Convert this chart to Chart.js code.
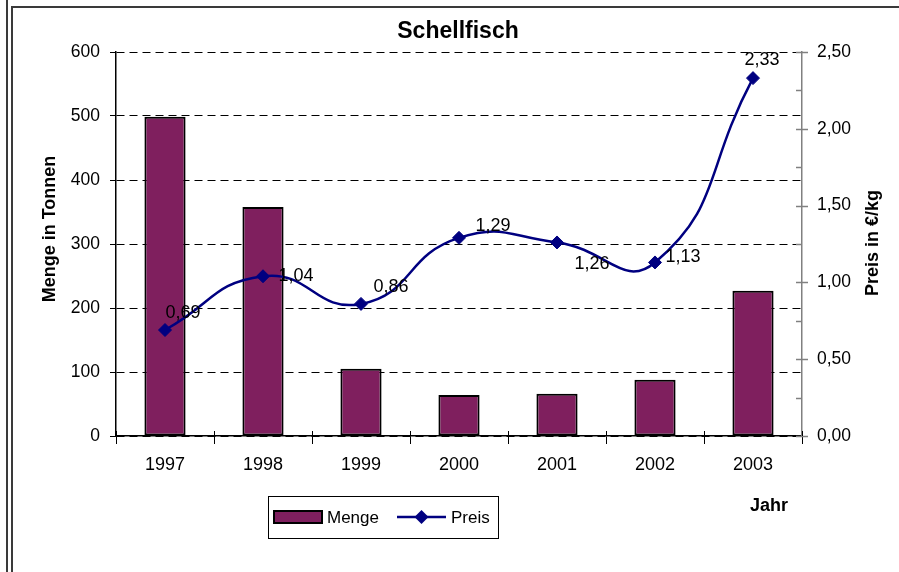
<!DOCTYPE html>
<html>
<head>
<meta charset="utf-8">
<script src="https://cdn.jsdelivr.net/npm/chart.js@4/dist/chart.umd.min.js"></script>
<style>
  html, body { margin: 0; padding: 0; background: #fff; }
  #wrap { position: relative; width: 899px; height: 572px; overflow: hidden; }
  #chart { position: absolute; left: 0; top: 0; }
  .edge { position: absolute; background: #3a3a3a; }
</style>
</head>
<body>
<div id="wrap">
  <canvas id="chart" width="899" height="572"></canvas>
  <div class="edge" style="left:6px;top:0;width:2px;height:572px"></div>
  <div class="edge" style="left:11px;top:6px;width:2px;height:566px"></div>
  <div class="edge" style="left:11px;top:6px;width:888px;height:2px"></div>
</div>
<script>
// Schellfisch: Menge (Tonnen) und Preis (EUR/kg)
const years = ['1997', '1998', '1999', '2000', '2001', '2002', '2003'];
const menge = [499, 358, 105, 64, 66, 88, 227];
const preis = [0.69, 1.04, 0.86, 1.29, 1.26, 1.13, 2.33];
const mengeTicks = [0, 100, 200, 300, 400, 500, 600];
const preisTicks = [0, 0.5, 1, 1.5, 2, 2.5];

const FONT = "'Liberation Sans', Arial, sans-serif";
const PLUM = '#7f1f5e';
const NAVY = '#000080';

// where each price label sits relative to its point (dx, dy of text centre)
const labelShift = [[18, -17], [33, 0], [30, -17], [34, -12], [35, 22], [28, -5], [9, -18]];

const fmt = v => v.toFixed(2).replace('.', ',');

const textPlugin = {
    id: 'texts',
    afterDraw(chart) {
        const ctx = chart.ctx;
        ctx.save();
        ctx.fillStyle = '#000';
        ctx.textAlign = 'center';
        ctx.textBaseline = 'middle';

        ctx.font = 'bold 23px ' + FONT;
        ctx.fillText('Schellfisch', 458, 32);

        ctx.font = 'bold 18px ' + FONT;
        ctx.fillText('Jahr', 769, 506);

        ctx.save();
        ctx.translate(50, 229);
        ctx.rotate(-Math.PI / 2);
        ctx.fillText('Menge in Tonnen', 0, 0);
        ctx.restore();

        ctx.save();
        ctx.translate(873, 243);
        ctx.rotate(-Math.PI / 2);
        ctx.fillText('Preis in €/kg', 0, 0);
        ctx.restore();

        // price labels
        const meta = chart.getDatasetMeta(1);
        ctx.font = '18px ' + FONT;
        meta.data.forEach((pt, i) => {
            const [dx, dy] = labelShift[i];
            ctx.fillText(fmt(preis[i]), pt.x + dx, pt.y + dy);
        });

        // right axis tick marks: major ones cross, minor ones inward
        const s = chart.scales.y1;
        ctx.strokeStyle = '#808080';
        ctx.lineWidth = 1.5;
        s.ticks.forEach(t => {
            const y = Math.round(s.getPixelForValue(t.value)) + 0.5;
            const major = Math.abs(t.value / 0.5 - Math.round(t.value / 0.5)) < 1e-6;
            ctx.beginPath();
            ctx.moveTo(s.left - 6, y);
            ctx.lineTo(major ? s.left + 6 : s.left, y);
            ctx.stroke();
        });

        // x axis tick marks reach a little above the axis too
        const xs = chart.scales.x;
        const step = (xs.right - xs.left) / years.length;
        ctx.strokeStyle = '#000';
        ctx.lineWidth = 1;
        for (let i = 0; i <= years.length; i++) {
            const x = Math.round(xs.left + i * step) + 0.5;
            ctx.beginPath();
            ctx.moveTo(x, xs.top - 5);
            ctx.lineTo(x, xs.top);
            ctx.stroke();
        }

        // legend
        ctx.strokeStyle = '#000';
        ctx.lineWidth = 1;
        ctx.strokeRect(268.5, 496.5, 230, 42);
        ctx.fillStyle = PLUM;
        ctx.fillRect(274, 511, 48, 12);
        ctx.lineWidth = 2;
        ctx.strokeRect(274, 511, 48, 12);
        ctx.fillStyle = '#000';
        ctx.textAlign = 'left';
        ctx.font = '17px ' + FONT;
        ctx.fillText(chart.data.datasets[0].label, 327, 518);
        ctx.strokeStyle = NAVY;
        ctx.lineWidth = 2.5;
        ctx.beginPath();
        ctx.moveTo(397, 517);
        ctx.lineTo(446, 517);
        ctx.stroke();
        ctx.fillStyle = NAVY;
        ctx.beginPath();
        ctx.moveTo(414.5, 517);
        ctx.lineTo(421.5, 510);
        ctx.lineTo(428.5, 517);
        ctx.lineTo(421.5, 524);
        ctx.closePath();
        ctx.fill();
        ctx.fillStyle = '#000';
        ctx.fillText(chart.data.datasets[1].label, 451, 518);
        ctx.restore();
    }
};

new Chart(document.getElementById('chart'), {
    data: {
        labels: years,
        datasets: [
            {
                type: 'bar',
                label: 'Menge',
                data: menge,
                yAxisID: 'y',
                backgroundColor: PLUM,
                borderColor: '#000',
                borderWidth: 2,
                borderSkipped: false,
                barPercentage: 0.42,
                categoryPercentage: 1,
                order: 2
            },
            {
                type: 'line',
                label: 'Preis',
                data: preis,
                yAxisID: 'y1',
                borderColor: NAVY,
                borderWidth: 2.5,
                backgroundColor: NAVY,
                pointBackgroundColor: NAVY,
                pointBorderColor: NAVY,
                pointStyle: 'rectRot',
                pointRadius: 6.5,
                pointBorderWidth: 1,
                tension: 0.5,
                fill: false,
                order: 1
            }
        ]
    },
    options: {
        responsive: false,
        animation: false,
        devicePixelRatio: 1,
        layout: { padding: { top: 52, left: 0, right: 0, bottom: 0 } },
        plugins: {
            legend: { display: false },
            tooltip: { enabled: false },
            title: { display: false }
        },
        scales: {
            x: {
                offset: true,
                grid: {
                    offset: true,
                    drawOnChartArea: false,
                    drawTicks: true,
                    tickLength: 8,
                    tickColor: '#000',
                    color: '#000'
                },
                border: { color: '#000', width: 1.5 },
                ticks: { color: '#000', font: { family: FONT, size: 18 }, padding: 10, maxRotation: 0 },
                afterFit: s => { s.height = 136; }
            },
            y: {
                position: 'left',
                min: 0,
                max: mengeTicks[mengeTicks.length - 1],
                afterBuildTicks: s => { s.ticks = mengeTicks.map(v => ({ value: v })); },
                grid: {
                    color: '#000',
                    lineWidth: 1,
                    tickLength: 6,
                    tickColor: '#000',
                    tickBorderDash: [],
                    borderDash: [8, 5]
                },
                border: { color: '#000', width: 1.5, dash: [8, 5] },
                ticks: { color: '#000', font: { family: FONT, size: 17.5 }, padding: 10 },
                afterFit: s => { s.width = 116; }
            },
            y1: {
                position: 'right',
                min: 0,
                max: preisTicks[preisTicks.length - 1],
                ticks: {
                    stepSize: 0.25,
                    color: '#000',
                    font: { family: FONT, size: 17.5 },
                    padding: 15,
                    callback: v => preisTicks.some(p => Math.abs(p - v) < 1e-6) ? fmt(v) : ''
                },
                grid: { drawOnChartArea: false, drawTicks: false },
                border: { color: '#808080', width: 1.5 },
                afterFit: s => { s.width = 97; }
            }
        }
    },
    plugins: [textPlugin]
});
</script>
</body>
</html>
